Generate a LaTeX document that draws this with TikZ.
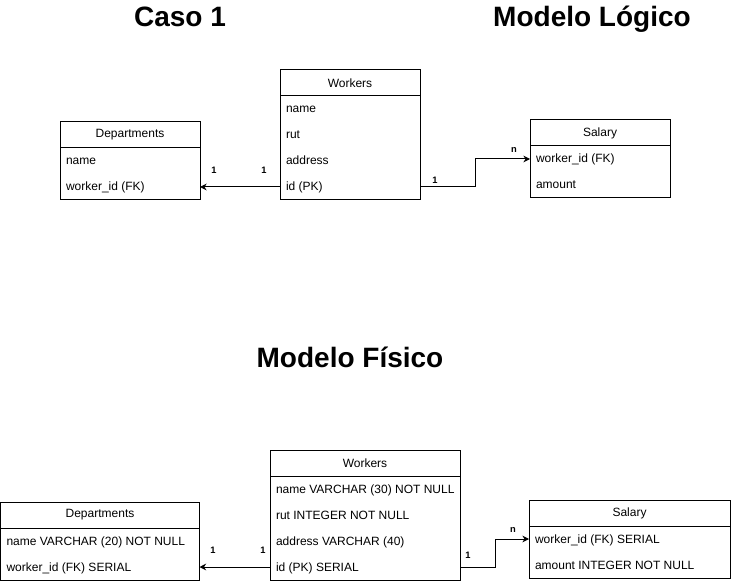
\documentclass[tikz,border=0pt]{standalone}
\usepackage{fontspec}
\setmainfont{Liberation Sans}
\usetikzlibrary{arrows.meta,positioning}

\begin{document}
\begin{tikzpicture}[x=0.75pt,y=-0.75pt,line width=0.75pt,
			>={Stealth[length=5pt,width=5pt]},
			hdr/.style={rectangle,draw,minimum width=#1,minimum height=19.5pt,
				inner sep=0pt,outer sep=0pt,font=\fontsize{9}{11}\selectfont},
			row/.style={rectangle,anchor=north west,minimum height=19.5pt,
				inner xsep=4.5pt,inner ysep=0pt,outer sep=0pt,
				text height=7.5pt,text depth=1.5pt,
				font=\fontsize{9}{11}\selectfont},
			title/.style={anchor=base,font=\fontsize{21}{25}\selectfont\bfseries},
			card/.style={font=\fontsize{7}{8}\selectfont\bfseries,inner sep=0pt}
			]
			\useasboundingbox (0,0) rectangle (731,584);
			
			\node[title] (caso) at (180,27) {Caso 1};
			\node[title] (logico) at (592,27) {Modelo Lógico};
			\node[title] (fisico) at (350,367) {Modelo Físico};
			
			% modelo logico
			\node[hdr=105pt] (W) at (350,83) {Workers};
			\node[row] (Wname) at (W.south west) {name};
			\node[row] (Wrut) at (Wname.south west) {rut};
			\node[row] (Waddr) at (Wrut.south west) {address};
			\node[row] (Wid) at (Waddr.south west) {id (PK)};
			\draw (W.south west) rectangle (Wid.south west -| W.east);
			
			\node[hdr=105pt] (D) at (130,135) {Departments};
			\node[row] (Dname) at (D.south west) {name};
			\node[row] (Dwid) at (Dname.south west) {worker\_id (FK)};
			\draw (D.south west) rectangle (Dwid.south west -| D.east);
			
			\node[hdr=105pt] (S) at (600,133) {Salary};
			\node[row] (Swid) at (S.south west) {worker\_id (FK)};
			\node[row] (Samount) at (Swid.south west) {amount};
			\draw (S.south west) rectangle (Samount.south west -| S.east);
			
			\draw[->] (Wid.west) -- (Dwid.west -| D.east)
			node[card,pos=0.2,yshift=12.75pt] {1}
			node[card,pos=0.825,yshift=12.75pt] {1};
			\draw[->] (Wid.west -| W.east)
			-- node[card,pos=0.27,yshift=5.25pt] {1} ++(55,0)
			|- node[card,pos=0.855,yshift=6.75pt] {n} (Swid.west);
			
			% modelo fisico
			\node[hdr=142.5pt] (PW) at (365,463) {Workers};
			\node[row] (PWname) at (PW.south west) {name VARCHAR (30) NOT NULL};
			\node[row] (PWrut) at (PWname.south west) {rut INTEGER NOT NULL};
			\node[row] (PWaddr) at (PWrut.south west) {address VARCHAR (40)};
			\node[row] (PWid) at (PWaddr.south west) {id (PK) SERIAL};
			\draw (PW.south west) rectangle (PWid.south west -| PW.east);
			
			\node[hdr=149.25pt] (PD) at (100,515) {Departments};
			\node[row] (PDname) at (PD.south west) {name VARCHAR (20) NOT NULL};
			\node[row] (PDwid) at (PDname.south west) {worker\_id (FK) SERIAL};
			\draw (PD.south west) rectangle (PDwid.south west -| PD.east);
			
			\node[hdr=150.75pt] (PS) at (629.5,513) {Salary};
			\node[row] (PSwid) at (PS.south west) {worker\_id (FK) SERIAL};
			\node[row] (PSamount) at (PSwid.south west) {amount INTEGER NOT NULL};
			\draw (PS.south west) rectangle (PSamount.south west -| PS.east);
			
			\draw[->] (PWid.west) -- (PDwid.west -| PD.east)
			node[card,pos=0.1,yshift=12.75pt] {1}
			node[card,pos=0.81,yshift=12.75pt] {1};
			\draw[->] (PWid.west -| PW.east)
			-- node[card,pos=0.23,yshift=9pt] {1} ++(35,0)
			|- node[card,pos=0.765,yshift=6.75pt] {n} (PSwid.west);
			
		\end{tikzpicture}
\end{document}
